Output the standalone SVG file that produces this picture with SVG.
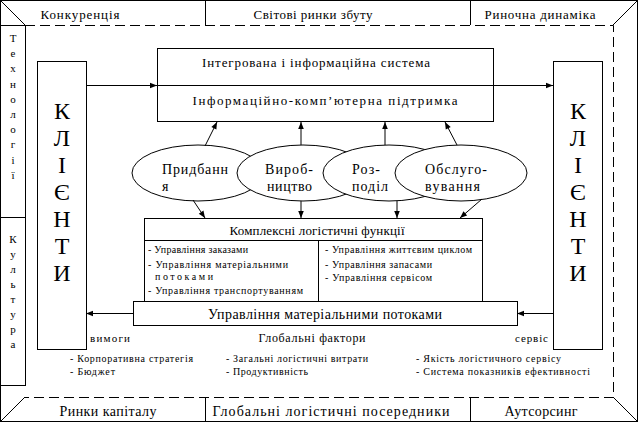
<svg xmlns="http://www.w3.org/2000/svg" width="638" height="422" viewBox="0 0 638 422" font-family="'Liberation Serif', 'Times New Roman', Times, 'Noto Serif', 'DejaVu Serif', serif">
<defs>
<marker id="ah" viewBox="0 0 10 10" refX="10" refY="5" markerWidth="8" markerHeight="7" markerUnits="userSpaceOnUse" orient="auto"><path d="M0,1 L10,5 L0,9 z" fill="#000"/></marker>
</defs>
<style>
.ln{stroke:#000;stroke-width:1;fill:none}
.bx{stroke:#000;stroke-width:1;fill:#fff}
.dash{stroke:#000;stroke-width:1;stroke-dasharray:10,5;fill:none}
.ar{stroke:#000;stroke-width:1;fill:none;marker-end:url(#ah)}
text{font-family:'Liberation Serif','Times New Roman',Times,'Noto Serif','DejaVu Serif',serif;fill:#000}
.t14{font-size:14px}
.t13{font-size:13px}
.t12{font-size:12px}
.t11{font-size:11px}
.t10{font-size:10px}
.big{font-size:24px}
.m{text-anchor:middle}
</style>
<g id="frame">
<rect class="ln" x="0.5" y="0.5" width="637" height="421"/>
<line class="ln" x1="205.5" y1="1" x2="205.5" y2="25"/>
<line class="ln" x1="470.5" y1="1" x2="470.5" y2="25"/>
<line class="ln" x1="205.5" y1="398" x2="205.5" y2="421"/>
<line class="ln" x1="470.5" y1="398" x2="470.5" y2="421"/>
<line class="ln" x1="1" y1="1" x2="25" y2="25"/>
<line class="ln" x1="637" y1="1" x2="613" y2="25"/>
<line class="ln" x1="613" y1="397" x2="637" y2="421"/>
<line class="ln" x1="1" y1="421" x2="25" y2="397"/>
<path class="dash" d="M25,25.5 H613.5 V397.5 H25"/>
<text class="t13 m" x="80" y="19" textLength="79" lengthAdjust="spacing">Конкуренція</text>
<text class="t13 m" x="313" y="19" textLength="119" lengthAdjust="spacing">Світові ринки збуту</text>
<text class="t13 m" x="540" y="19" textLength="111" lengthAdjust="spacing">Риночна динаміка</text>
<text class="t14 m" x="108" y="416" textLength="97" lengthAdjust="spacing">Ринки капіталу</text>
<text class="t14 m" x="331" y="416" textLength="237" lengthAdjust="spacing">Глобальні логістичні посередники</text>
<text class="t14 m" x="541" y="416" textLength="73" lengthAdjust="spacing">Аутсорсинг</text>
</g>
<g id="side">
<rect class="ln" x="0.5" y="25.5" width="25" height="360"/>
<line class="ln" x1="1" y1="217.5" x2="25" y2="217.5"/>
<text class="t11 m" x="13" y="42"><tspan x="13">Т</tspan><tspan x="13" dy="15.2">е</tspan><tspan x="13" dy="15.2">х</tspan><tspan x="13" dy="15.2">н</tspan><tspan x="13" dy="15.2">о</tspan><tspan x="13" dy="15.2">л</tspan><tspan x="13" dy="15.2">о</tspan><tspan x="13" dy="15.2">г</tspan><tspan x="13" dy="15.2">і</tspan><tspan x="13" dy="15.2">ї</tspan></text>
<text class="t11 m" x="13" y="243"><tspan x="13">К</tspan><tspan x="13" dy="15">у</tspan><tspan x="13" dy="15">л</tspan><tspan x="13" dy="15">ь</tspan><tspan x="13" dy="15">т</tspan><tspan x="13" dy="15">у</tspan><tspan x="13" dy="15">р</tspan><tspan x="13" dy="15">а</tspan></text>
</g>
<g id="clients-left">
<rect class="bx" x="37.5" y="61.5" width="49" height="288"/>
<text class="big m" x="62" y="119"><tspan x="62">К</tspan><tspan x="62" dy="27">Л</tspan><tspan x="62" dy="27">І</tspan><tspan x="62" dy="27">Є</tspan><tspan x="62" dy="27">Н</tspan><tspan x="62" dy="27">Т</tspan><tspan x="62" dy="27">И</tspan></text>
</g>
<g id="clients-right">
<rect class="bx" x="553.5" y="61.5" width="49" height="288"/>
<text class="big m" x="578" y="119"><tspan x="578">К</tspan><tspan x="578" dy="27">Л</tspan><tspan x="578" dy="27">І</tspan><tspan x="578" dy="27">Є</tspan><tspan x="578" dy="27">Н</tspan><tspan x="578" dy="27">Т</tspan><tspan x="578" dy="27">И</tspan></text>
</g>
<g id="info-system">
<rect class="bx" x="157.5" y="48.5" width="336" height="73"/>
<line class="ln" x1="157" y1="85.5" x2="493" y2="85.5"/>
<text class="t13 m" x="316" y="67" textLength="228" lengthAdjust="spacing">Інтегрована і інформаційна система</text>
<text class="t13 m" x="325" y="105" textLength="265" lengthAdjust="spacing">Інформаційно-комп’ютерна підтримка</text>
</g>
<g id="e-buy">
<ellipse class="bx" cx="198" cy="173" rx="66" ry="28"/>
<text class="t14" x="162" y="174" textLength="66" lengthAdjust="spacing">Придбанн</text>
<text class="t14" x="162" y="191">я</text>
</g>
<g id="e-prod">
<ellipse class="bx" cx="303" cy="173" rx="66" ry="28"/>
<text class="t14" x="265" y="174" textLength="48" lengthAdjust="spacing">Вироб-</text>
<text class="t14" x="267" y="191" textLength="45" lengthAdjust="spacing">ництво</text>
</g>
<g id="e-dist">
<ellipse class="bx" cx="389" cy="173" rx="66" ry="28"/>
<text class="t14" x="352" y="174" textLength="28" lengthAdjust="spacing">Роз-</text>
<text class="t14" x="352" y="191" textLength="36" lengthAdjust="spacing">поділ</text>
</g>
<g id="e-serv">
<ellipse class="bx" cx="461" cy="173" rx="66" ry="28"/>
<text class="t14" x="425" y="174" textLength="62" lengthAdjust="spacing">Обслуго-</text>
<text class="t14" x="425" y="191" textLength="55" lengthAdjust="spacing">вування</text>
</g>
<g id="functions">
<rect class="bx" x="144.5" y="218.5" width="338" height="83"/>
<line class="ln" x1="144" y1="240.5" x2="482" y2="240.5"/>
<line class="ln" x1="318.5" y1="240" x2="318.5" y2="301"/>
<text class="t13 m" x="317" y="235" textLength="175" lengthAdjust="spacing">Комплексні логістичні функції</text>
<text class="t10" x="148" y="253" textLength="100" lengthAdjust="spacing">- Управління заказами</text>
<text class="t10" x="148" y="268" textLength="140" lengthAdjust="spacing">- Управління матеріальними</text>
<text class="t10" x="155" y="280" textLength="58" lengthAdjust="spacing">потоками</text>
<text class="t10" x="148" y="294" textLength="155" lengthAdjust="spacing">- Управління транспортуванням</text>
<text class="t10" x="325" y="253" textLength="147" lengthAdjust="spacing">- Управління життєвим циклом</text>
<text class="t10" x="325" y="268" textLength="107" lengthAdjust="spacing">- Управління запасами</text>
<text class="t10" x="325" y="281" textLength="107" lengthAdjust="spacing">- Управління сервісом</text>
</g>
<g id="material-flow">
<rect class="bx" x="133.5" y="301.5" width="384" height="24"/>
<text class="t14 m" x="325" y="319" textLength="234" lengthAdjust="spacing">Управління матеріальними потоками</text>
</g>
<g id="connectors">
<line class="ar" x1="86" y1="85.5" x2="157" y2="85.5"/>
<line class="ar" x1="493" y1="85.5" x2="553" y2="85.5"/>
<line class="ar" x1="205" y1="146" x2="217" y2="122"/>
<line class="ar" x1="301" y1="145" x2="301" y2="122"/>
<line class="ar" x1="385" y1="145" x2="385" y2="122"/>
<line class="ar" x1="457" y1="145" x2="445" y2="122"/>
<line class="ar" x1="193" y1="200" x2="205" y2="218"/>
<line class="ar" x1="301" y1="201" x2="301" y2="218"/>
<line class="ar" x1="397" y1="201" x2="397" y2="218"/>
<line class="ar" x1="482" y1="199" x2="460" y2="218"/>
<line class="ar" x1="133" y1="313.5" x2="86" y2="313.5"/>
<line class="ar" x1="553" y1="313.5" x2="517" y2="313.5"/>
</g>
<g id="labels">
<text class="t11" x="90" y="342" textLength="40" lengthAdjust="spacing">вимоги</text>
<text class="t12 m" x="312" y="342" textLength="107" lengthAdjust="spacing">Глобальні фактори</text>
<text class="t11" x="515" y="342" textLength="33" lengthAdjust="spacing">сервіс</text>
<text class="t10" x="70" y="362" textLength="123" lengthAdjust="spacing">- Корпоративна стратегія</text>
<text class="t10" x="70" y="375" textLength="45" lengthAdjust="spacing">- Бюджет</text>
<text class="t10" x="226" y="362" textLength="142" lengthAdjust="spacing">- Загальні логістичні витрати</text>
<text class="t10" x="226" y="375" textLength="82" lengthAdjust="spacing">- Продуктивність</text>
<text class="t10" x="416" y="362" textLength="145" lengthAdjust="spacing">- Якість логістичного сервісу</text>
<text class="t10" x="416" y="375" textLength="174" lengthAdjust="spacing">- Система показників ефективності</text>
</g>
</svg>
